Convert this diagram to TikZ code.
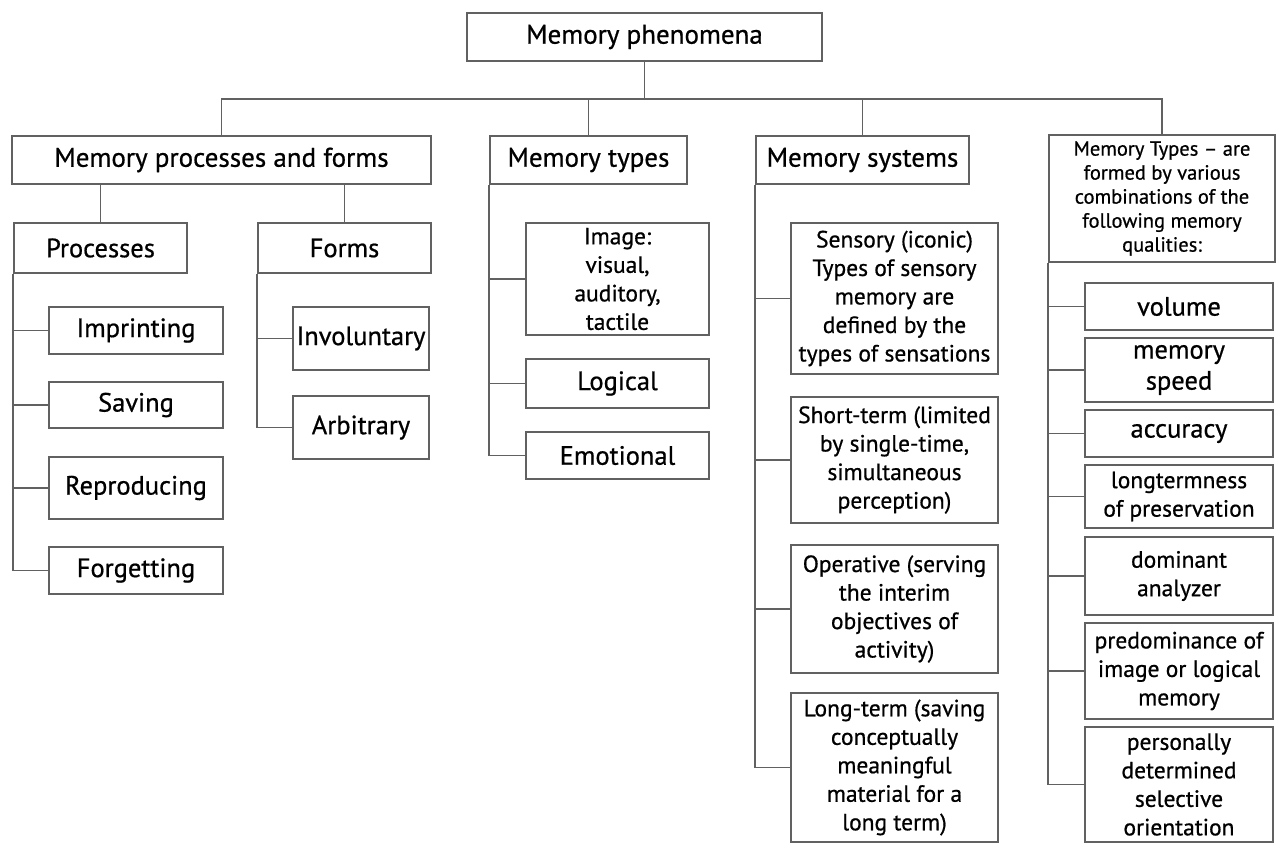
\documentclass[tikz,border=0pt]{standalone}
\usepackage{fontspec}
\setmainfont{PT Sans}[FakeBold=0.7]
\begin{document}
\begin{tikzpicture}[x=1pt,y=-1pt,
  box/.style={draw=black!62, line width=1.7pt, fill=white, inner sep=0pt, align=center, text=black},
  big/.style={box, font=\fontsize{27}{31}\selectfont},
  mid/.style={box, font=\fontsize{26.5}{31}\selectfont},
  small/.style={box, font=\fontsize{23.5}{28.5}\selectfont},
  tiny/.style={box, font=\fontsize{20.5}{24}\selectfont},
  link/.style={draw=black!62, line width=1.7pt}]
\useasboundingbox (0,0) rectangle (1276,843);
% level 1
\node[big, minimum width=355pt, minimum height=48pt] (top) at (644.5,37) {Memory phenomena};
% level 2
\node[big, minimum width=419pt, minimum height=48pt] (mpf) at (221.5,160) {Memory processes and forms};
\node[big, minimum width=197pt, minimum height=48pt] (mtypes) at (588.5,160) {Memory types};
\node[big, minimum width=213pt, minimum height=48pt] (msys) at (862.5,160) {Memory systems};
\node[tiny, minimum width=226pt, minimum height=127pt] (mqual) at (1162,198.5) {Memory Types – are\\formed by various\\combinations of the\\following memory\\qualities:};
% level 3 under processes and forms
\node[mid, minimum width=173pt, minimum height=50pt] (processes) at (100.5,248) {Processes};
\node[mid, minimum width=173pt, minimum height=50pt] (forms) at (344.5,248) {Forms};
\node[mid, minimum width=174pt, minimum height=47pt] (imprinting) at (136,330.5) {Imprinting};
\node[mid, minimum width=174pt, minimum height=46pt] (saving) at (136,405) {Saving};
\node[mid, minimum width=174pt, minimum height=62pt] (reproducing) at (136,488) {Reproducing};
\node[mid, minimum width=174pt, minimum height=47pt] (forgetting) at (136,570.5) {Forgetting};
\node[mid, minimum width=136pt, minimum height=63pt] (involuntary) at (361,338.5) {Involuntary};
\node[mid, minimum width=136pt, minimum height=63pt] (arbitrary) at (361,427.5) {Arbitrary};
% memory types
\node[small, minimum width=183pt, minimum height=112pt] (image) at (617.5,279) {Image:\\visual,\\auditory,\\tactile};
\node[mid, minimum width=183pt, minimum height=49pt] (logical) at (617.5,383.5) {Logical};
\node[mid, minimum width=183pt, minimum height=47pt] (emotional) at (617.5,455.5) {Emotional};
% memory systems
\node[small, minimum width=207pt, minimum height=151pt] (sensory) at (894.5,298.5) {Sensory (iconic)\\Types of sensory\\memory are\\defined by the\\types of sensations};
\node[small, minimum width=207pt, minimum height=126pt] (shortterm) at (894.5,460) {Short-term (limited\\by single-time,\\simultaneous\\perception)};
\node[small, minimum width=207pt, minimum height=128pt] (operative) at (894.5,609) {Operative (serving\\the interim\\objectives of\\activity)};
\node[small, minimum width=207pt, minimum height=149pt] (longterm) at (894.5,767.5) {Long-term (saving\\conceptually\\meaningful\\material for a\\long term)};
% memory qualities
\node[mid, minimum width=188pt, minimum height=47pt] (volume) at (1179,306.5) {volume};
\node[mid, minimum width=188pt, minimum height=64pt] (speed) at (1179,370) {memory\\speed};
\node[mid, minimum width=188pt, minimum height=47pt] (accuracy) at (1179,433.5) {accuracy};
\node[small, minimum width=188pt, minimum height=63pt] (longtermness) at (1179,496.5) {longtermness\\of preservation};
\node[small, minimum width=188pt, minimum height=78pt] (dominant) at (1179,576) {dominant\\analyzer};
\node[small, minimum width=188pt, minimum height=96pt] (predominance) at (1179,671) {predominance of\\image or logical\\memory};
\node[small, minimum width=188pt, minimum height=115pt] (personally) at (1179,784.5) {personally\\determined\\selective\\orientation};
% connectors level 1-2
\coordinate (bus) at (644.5,99);
\draw[link] (top.south) -- (bus);
\draw[link] (mpf.north) |- (bus) -| (mqual.north);
\draw[link] (mtypes.north) -- (mtypes.north |- bus);
\draw[link] (msys.north) -- (msys.north |- bus);
% mpf to processes and forms
\draw[link] (mpf.south -| processes.north) -- (processes.north);
\draw[link] (mpf.south -| forms.north) -- (forms.north);
% processes spine
\draw[link] (processes.south west) |- (forgetting.west);
\foreach \n in {imprinting,saving,reproducing}
  \draw[link] (processes.south west |- \n.west) -- (\n.west);
% forms spine
\draw[link] (forms.south west) |- (arbitrary.west);
\draw[link] (forms.south west |- involuntary.west) -- (involuntary.west);
% memory types spine
\draw[link] (mtypes.south west) |- (emotional.west);
\foreach \n in {image,logical}
  \draw[link] (mtypes.south west |- \n.west) -- (\n.west);
% memory systems spine
\draw[link] (msys.south west) |- (longterm.west);
\foreach \n in {sensory,shortterm,operative}
  \draw[link] (msys.south west |- \n.west) -- (\n.west);
% qualities spine
\draw[link] (mqual.south west) |- (personally.west);
\foreach \n in {volume,speed,accuracy,longtermness,dominant,predominance}
  \draw[link] (mqual.south west |- \n.west) -- (\n.west);
\end{tikzpicture}
\end{document}
